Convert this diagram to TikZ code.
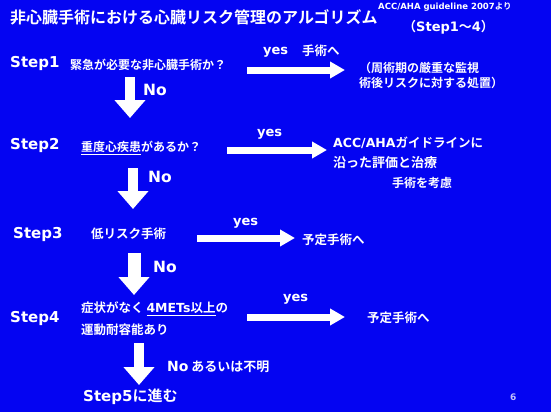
\documentclass[tikz,border=0pt]{standalone}
\usepackage{fontspec}
\newfontfamily\jp{Noto Sans CJK JP Bold}
\newfontfamily\lat{DejaVu Sans Bold}
\usetikzlibrary{arrows.meta}
\definecolor{slideblue}{RGB}{4,4,242}
\newcommand\fsz[1]{\fontsize{#1}{#1}\selectfont}
\tikzset{
  txt/.style={text=white,anchor=west,inner sep=0pt,font=\jp\fsz{12.5}},
  steplbl/.style={txt,font=\lat\fsz{15}},
  yeslbl/.style={txt,font=\lat\fsz{13}},
  nolbl/.style={txt,font=\lat\fsz{15.5}},
  yesarrow/.style={white,line width=7pt,-{Triangle[length=15pt,width=16pt]}},
  noarrow/.style={white,line width=10pt,-{Triangle[length=18pt,width=30pt]}},
}
\begin{document}
\begin{tikzpicture}[x=1pt,y=-1pt]
\fill[slideblue] (0,0) rectangle (551,412);
\useasboundingbox (0,0) rectangle (551,412);
% header
\node[txt,font=\jp\fsz{16}] (title) at (10,17) {非心臓手術における心臓リスク管理のアルゴリズム};
\node[txt,font=\jp\fsz{8.5}] (guide) at (378,7) {{\lat ACC/AHA guideline 2007}より};
\node[txt,font=\jp\fsz{13}] (range) at (403,27) {（{\lat Step1}～{\lat 4}）};
% step 1
\node[steplbl] (s1) at (10,63) {Step1};
\node[txt,font=\jp\fsz{12}] (q1) at (70,65) {緊急が必要な非心臓手術か？};
\node[yeslbl] (y1) at (263,52) {yes};
\node[txt] (go1) at (302,51) {手術へ};
\node[txt,font=\jp\fontsize{12}{15}\selectfont,align=left] (a1) at (359,75) {（周術期の厳重な監視\\術後リスクに対する処置）};
\coordinate (y1s) at (247,70); \coordinate (y1e) at (345,70);
\draw[yesarrow] (y1s) -- (y1e);
\coordinate (n1s) at (130,77); \coordinate (n1e) at (130,118);
\draw[noarrow] (n1s) -- (n1e);
\node[nolbl] (no1) at (143,90) {No};
% step 2
\node[steplbl] (s2) at (10,145) {Step2};
\node[txt,font=\jp\fsz{12}] (q2) at (81,148) {\underline{重度心疾患}があるか？};
\node[yeslbl] (y2) at (257,134) {yes};
\node[txt] (a2a) at (333,143) {{\lat ACC/AHA}ガイドラインに};
\node[txt,font=\jp\fsz{13}] (a2b) at (333,163) {沿った評価と治療};
\node[txt,font=\jp\fsz{12}] (a2c) at (392,183) {手術を考慮};
\coordinate (y2s) at (227,150); \coordinate (y2e) at (327,150);
\draw[yesarrow] (y2s) -- (y2e);
\coordinate (n2s) at (133,168); \coordinate (n2e) at (133,209);
\draw[noarrow] (n2s) -- (n2e);
\node[nolbl] (no2) at (148,177) {No};
% step 3
\node[steplbl] (s3) at (13,234) {Step3};
\node[txt] (q3) at (91,234) {低リスク手術};
\node[yeslbl] (y3) at (233,223) {yes};
\node[txt] (a3) at (302,240) {予定手術へ};
\coordinate (y3s) at (197,238); \coordinate (y3e) at (295,238);
\draw[yesarrow] (y3s) -- (y3e);
\coordinate (n3s) at (134,253); \coordinate (n3e) at (134,295);
\draw[noarrow,line width=13pt] (n3s) -- (n3e);
\node[nolbl] (no3) at (153,267) {No};
% step 4
\node[yeslbl] (y4) at (283,299) {yes};
\node[steplbl] (s4) at (10,318) {Step4};
\node[txt] (q4a) at (81,309) {症状がなく \underline{{\lat 4METs}以上}の};
\node[txt] (q4b) at (81,330) {運動耐容能あり};
\node[txt] (a4) at (367,318) {予定手術へ};
\coordinate (y4s) at (247,317); \coordinate (y4e) at (345,317);
\draw[yesarrow] (y4s) -- (y4e);
\coordinate (n4s) at (139,343); \coordinate (n4e) at (139,385);
\draw[noarrow] (n4s) -- (n4e);
\node[txt,font=\jp\fsz{13}] (no4) at (167,367) {{\lat\fsz{14}No} あるいは不明};
% step 5
\node[txt,font=\jp\fsz{15}] (s5) at (83,397) {{\lat Step5}に進む};
\node[txt,font=\lat\fsz{9},text=white!75!slideblue] (page) at (510,397) {6};
\end{tikzpicture}
\end{document}
